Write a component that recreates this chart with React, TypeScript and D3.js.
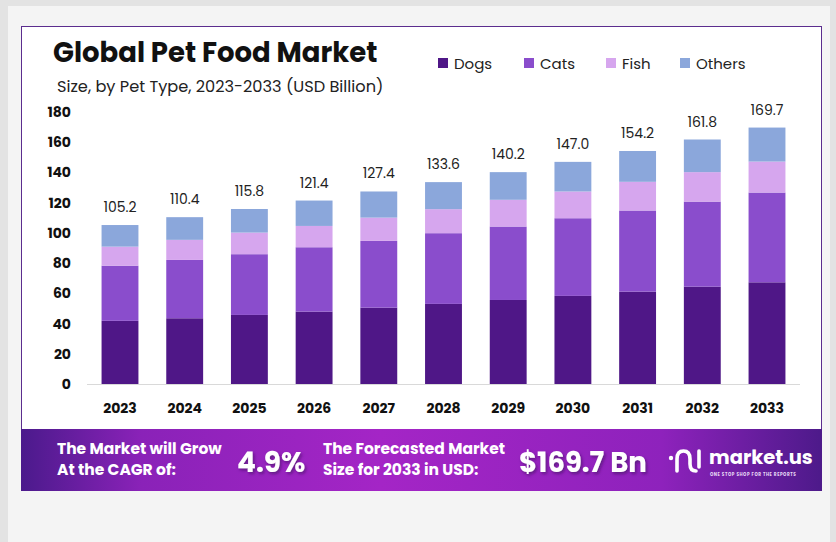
import React from "react";
import * as d3 from "d3";

const years = ["2023","2024","2025","2026","2027","2028","2029","2030","2031","2032","2033"];
const dogs = [41.8, 43.5, 45.7, 47.9, 50.5, 53.0, 55.6, 58.3, 61.1, 64.4, 67.3];
const cats = [36.5, 38.6, 40.2, 42.6, 44.2, 46.8, 48.6, 51.4, 53.7, 56.3, 59.4];
const fish = [12.6, 13.3, 14.3, 14.1, 15.4, 15.9, 17.7, 17.7, 19.0, 19.5, 20.5];
const others = [14.3, 15.0, 15.6, 16.8, 17.3, 17.9, 18.3, 19.6, 20.4, 21.6, 22.5];
const totals = ["105.2","110.4","115.8","121.4","127.4","133.6","140.2","147.0","154.2","161.8","169.7"];
const yTicks = [0, 20, 40, 60, 80, 100, 120, 140, 160, 180];
const seriesNames = ["Dogs", "Cats", "Fish", "Others"];
const seriesColors = ["#4f1787", "#8a4dcc", "#d6a6ee", "#8ba7db"];

const FONT = "Poppins, 'Open Sans', Lato, sans-serif";

export default function App() {
  const W = 836, H = 542;
  const rows = years.map((y, i) => ({ year: y, Dogs: dogs[i], Cats: cats[i], Fish: fish[i], Others: others[i] }));
  const stack = d3.stack<any>().keys(seriesNames)(rows);
  const x = d3.scaleBand().domain(years).range([87, 800]).paddingInner(0.43).paddingOuter(0.225);
  const y = d3.scaleLinear().domain([0, 180]).range([384, 112]);

  return (
    <div style={{ position: "absolute", left: 0, top: 0, width: W, height: H }}>
      <svg width={W} height={H} style={{ display: "block", fontFamily: FONT }}>
        <defs>
          <linearGradient id="bannerGrad" x1="0" x2="1" y1="0" y2="0">
            <stop offset="0" stopColor="#4b1a8c" />
            <stop offset="0.15" stopColor="#8a22b8" />
            <stop offset="0.45" stopColor="#a425c6" />
            <stop offset="0.8" stopColor="#8e22bc" />
            <stop offset="1" stopColor="#4d1a8a" />
          </linearGradient>
          <filter id="shadow" x="-10%" y="-20%" width="130%" height="150%">
            <feDropShadow dx="1.5" dy="2" stdDeviation="1.5" floodColor="#3a0a5a" floodOpacity="0.6" />
          </filter>
        </defs>
        <rect x={0} y={0} width={W} height={H} fill="#e3e3e3" />
        <rect x={8} y={6} width={822} height={536} fill="#f4f4f4" />
        <rect x={21.5} y={26.5} width={800} height={403} fill="#ffffff" stroke="#5b2d8e" strokeWidth={1} />

        {/* title */}
        <text x={53} y={62} fontSize={27.5} fontWeight={700} fill="#111">Global Pet Food Market</text>
        <text x={57} y={92} fontSize={16.2} fill="#222">Size, by Pet Type, 2023-2033 (USD Billion)</text>

        {/* legend */}
        {seriesNames.map((s, i) => {
          const lx = [438, 524, 606, 680][i];
          return (
            <g key={s}>
              <rect x={lx} y={58} width={10} height={10} fill={seriesColors[i]} />
              <text x={lx + 16} y={68.5} fontSize={15} fill="#222">{s}</text>
            </g>
          );
        })}

        {/* y ticks */}
        {yTicks.map((t) => (
          <text key={t} x={71} y={y(t) + 5} fontSize={14} fontWeight={700} textAnchor="end" fill="#111">{t}</text>
        ))}
        <line x1={87} x2={800} y1={384.5} y2={384.5} stroke="#d9d9d9" strokeWidth={1} />

        {/* bars */}
        {stack.map((layer, si) => (
          <g key={layer.key} fill={seriesColors[si]}>
            {layer.map((d, i) => (
              <rect key={i} x={x(years[i])} width={x.bandwidth()} y={y(d[1])} height={y(d[0]) - y(d[1])} />
            ))}
          </g>
        ))}
        {years.map((yr, i) => (
          <text key={yr} x={(x(yr) as number) + x.bandwidth() / 2} y={y(parseFloat(totals[i])) - 13} fontSize={14} textAnchor="middle" fill="#222">{totals[i]}</text>
        ))}
        {years.map((yr) => (
          <text key={"l" + yr} x={(x(yr) as number) + x.bandwidth() / 2} y={413} fontSize={14} fontWeight={700} textAnchor="middle" fill="#111">{yr}</text>
        ))}

        {/* banner */}
        <rect x={21} y={429} width={801} height={62} fill="url(#bannerGrad)" />
        <text x={57} y={454} fontSize={15.5} fontWeight={700} fill="#fff">The Market will Grow</text>
        <text x={57} y={475} fontSize={15.5} fontWeight={700} fill="#fff">At the CAGR of:</text>
        <text x={237} y={472} fontSize={28} fontWeight={700} fill="#fff" filter="url(#shadow)">4.9%</text>
        <text x={323} y={454} fontSize={15.5} fontWeight={700} fill="#fff">The Forecasted Market</text>
        <text x={323} y={475} fontSize={15.5} fontWeight={700} fill="#fff">Size for 2033 in USD:</text>
        <text x={519} y={472} fontSize={27.5} fontWeight={700} fill="#fff" filter="url(#shadow)">$169.7 Bn</text>

        {/* logo */}
        <g fill="none" stroke="#fff" strokeWidth={3.6} strokeLinecap="round">
          <path d="M677 471 L677 459 Q677 451 683.5 451 Q690 451 690 459 L690 464 Q690 471 696 471" />
          <line x1={699} y1={451} x2={699} y2={467} />
        </g>
        <circle cx={671} cy={458} r={2.2} fill="#fff" />
        <text x={709} y={464} fontSize={19.5} fontWeight={700} fill="#fff">market.us</text>
        <text x={710} y={476} fontSize={4.2} fontWeight={700} fill="#e8d8f5" letterSpacing={0.55}>ONE STOP SHOP FOR THE REPORTS</text>
      </svg>
    </div>
  );
}
